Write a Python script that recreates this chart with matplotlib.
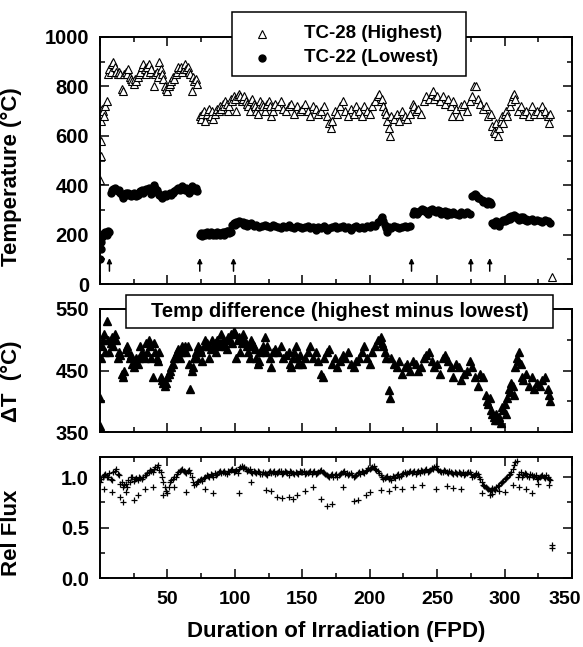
import numpy as np
import matplotlib
matplotlib.use("Agg")
import matplotlib.pyplot as plt
from matplotlib.patches import Rectangle
from matplotlib.lines import Line2D
from matplotlib.ticker import MultipleLocator
from matplotlib.transforms import ScaledTranslation

plt.rcParams["font.family"] = ["Liberation Sans", "DejaVu Sans"]
plt.rcParams["font.weight"] = "bold"

# (day, temperature C)
tc28 = [(0.3, 420), (0.5, 520), (0.7, 580), (1, 660), (1.3, 690), (1.8, 710), (2.5, 700), (3, 680), (4, 720), (5, 740),
        (6, 850), (7, 870), (8, 860), (9, 890), (10, 900), (11, 880), (12, 860), (13, 850), (14, 860), (15, 850),
        (16, 790), (17, 780), (18, 850), (19, 860), (20, 850), (21, 870), (22, 840), (23, 830), (24, 820), (25, 810),
        (26, 830), (27, 820), (28, 840), (29, 850), (30, 860), (31, 880), (32, 890), (33, 870), (34, 850), (35, 880),
        (36, 890), (37, 860), (38, 870), (40, 800), (41, 850), (42, 860), (43, 840), (44, 900), (45, 870), (46, 850),
        (47, 830), (48, 800), (49, 790), (50, 780), (51, 800), (52, 810), (53, 820), (54, 840), (55, 830), (56, 850),
        (57, 860), (58, 880), (59, 870), (60, 880), (61, 860), (62, 870), (63, 890), (64, 870), (65, 880), (66, 860),
        (67, 850), (68, 780), (69, 840), (70, 820), (71, 830), (72, 810),
        (74, 680), (75, 670), (76, 690), (77, 700), (78, 660), (79, 690), (80, 700), (81, 710), (82, 680), (83, 700),
        (84, 670), (85, 690), (86, 700), (87, 710), (88, 700), (89, 720), (90, 710), (91, 730), (92, 720), (93, 740),
        (94, 730), (95, 700), (96, 720), (97, 750), (98, 740), (99, 760), (100, 750), (101, 700), (102, 760), (103, 770),
        (104, 760), (105, 740), (106, 750), (107, 760), (108, 740), (109, 730), (110, 720), (111, 700), (112, 740),
        (113, 750), (114, 730), (115, 720), (116, 700), (117, 690), (118, 720), (119, 740), (120, 730), (121, 720),
        (122, 700), (123, 720), (124, 730), (125, 740), (126, 720), (127, 680), (128, 700), (129, 720), (130, 730),
        (132, 720), (134, 740), (136, 710), (138, 700), (140, 720), (142, 730), (144, 690), (146, 720), (148, 700),
        (150, 710), (152, 730), (154, 700), (156, 680), (158, 720), (160, 710), (162, 690), (164, 700), (166, 720),
        (168, 680), (170, 650), (171, 630), (172, 660), (174, 700), (176, 690), (178, 720), (180, 740), (182, 700),
        (184, 680), (186, 710), (188, 690), (190, 720), (192, 700), (194, 680), (196, 720), (198, 700), (200, 690),
        (202, 720), (204, 740), (206, 760), (207, 770), (208, 740), (209, 750), (210, 720), (211, 700), (212, 690),
        (213, 660), (214, 630), (215, 600), (216, 680), (218, 670), (220, 690), (222, 660), (224, 700), (226, 680),
        (228, 670), (230, 690), (232, 730), (233, 720), (234, 700), (236, 710), (238, 690), (240, 740), (242, 760),
        (244, 750), (246, 770), (247, 780), (248, 750), (250, 760), (252, 740), (254, 760), (256, 730), (258, 750),
        (260, 720), (261, 680), (262, 740), (264, 710), (266, 680), (268, 720), (270, 730), (272, 700), (274, 740),
        (276, 760), (277, 800), (279, 800), (280, 750), (282, 730), (284, 710), (286, 720), (288, 680), (290, 690),
        (291, 640), (292, 620), (293, 610), (294, 650), (295, 600), (296, 630), (297, 660), (298, 680), (299, 650),
        (300, 690), (301, 700), (302, 680), (304, 720), (305, 740), (306, 760), (307, 770), (308, 750), (310, 700),
        (312, 720), (314, 690), (316, 700), (318, 680), (320, 720), (322, 690), (324, 700), (326, 690), (328, 720),
        (330, 700), (332, 680), (333, 650), (334, 690), (335, 30)]

tc22 = [(0.3, 100), (0.6, 140), (1, 170), (1.5, 190), (2, 200), (3, 205), (4, 210), (5, 200), (6, 215), (7, 210),
        (8, 370), (9, 380), (10, 385), (11, 390), (12, 380), (13, 375), (14, 380), (15, 370), (16, 360), (17, 350),
        (18, 365), (19, 370), (20, 360), (21, 370), (22, 365), (23, 355), (24, 360), (25, 370), (26, 365), (27, 355),
        (28, 360), (29, 370), (30, 375), (31, 380), (32, 370), (33, 380), (34, 385), (35, 380), (36, 390), (37, 375),
        (38, 365), (39, 380), (40, 400), (41, 390), (42, 380), (43, 370), (44, 360), (45, 355), (46, 350), (47, 360),
        (48, 365), (49, 355), (50, 360), (51, 365), (52, 370), (53, 360), (54, 370), (55, 375), (56, 380), (57, 385),
        (58, 390), (59, 380), (60, 385), (61, 395), (62, 385), (63, 380), (64, 390), (65, 375), (66, 370), (67, 385),
        (68, 395), (69, 380), (70, 385), (71, 390), (72, 375),
        (74, 200), (75, 205), (76, 195), (77, 205), (78, 200), (79, 210), (80, 205), (81, 200), (82, 210), (83, 205),
        (84, 200), (85, 205), (86, 200), (87, 210), (88, 205), (89, 200), (90, 205), (91, 210), (92, 200), (93, 210),
        (94, 215), (95, 215), (96, 205), (97, 210),
        (98, 240), (99, 245), (100, 240), (101, 250), (102, 245), (103, 255), (104, 250), (105, 245), (106, 250),
        (107, 240), (108, 245), (109, 235), (110, 240), (112, 245), (114, 235), (116, 240), (118, 230), (120, 235),
        (122, 240), (124, 235), (126, 230), (128, 240), (130, 235), (132, 230), (134, 225), (136, 235), (138, 230),
        (140, 240), (142, 230), (144, 225), (146, 235), (148, 230), (150, 225), (152, 230), (154, 235), (156, 225),
        (158, 230), (160, 220), (162, 230), (164, 225), (166, 235), (168, 220), (170, 225), (172, 230), (174, 235),
        (176, 225), (178, 230), (180, 235), (182, 225), (184, 230), (186, 220), (188, 230), (190, 235), (192, 225),
        (194, 230), (196, 225), (198, 235), (200, 230), (202, 240), (204, 235), (206, 250), (208, 265), (209, 270),
        (210, 255), (211, 240), (212, 225), (213, 210), (214, 230), (216, 225), (218, 235), (220, 230), (222, 225),
        (224, 230), (226, 235), (228, 230), (230, 235),
        (232, 285), (233, 295), (234, 290), (235, 285), (236, 290), (237, 295), (238, 300), (239, 305), (240, 300),
        (242, 290), (243, 285), (244, 295), (245, 300), (246, 305), (247, 300), (248, 295), (249, 290), (250, 295),
        (251, 300), (252, 295), (253, 285), (254, 290), (256, 295), (257, 280), (258, 290), (260, 285), (262, 290),
        (264, 285), (266, 280), (268, 290), (270, 285), (272, 290), (274, 285),
        (276, 355), (277, 360), (278, 365), (279, 360), (280, 350), (281, 350), (283, 340), (284, 330), (285, 335),
        (286, 330), (287, 325), (288, 335), (289, 330), (290, 325),
        (291, 245), (292, 240), (293, 250), (294, 255), (295, 245), (296, 235), (297, 250), (298, 255), (299, 260),
        (300, 255), (301, 265), (302, 260), (303, 270), (304, 265), (305, 275), (306, 270), (307, 280), (308, 275),
        (309, 270), (310, 265), (311, 260), (312, 270), (313, 265), (314, 270), (315, 260), (316, 265), (317, 255),
        (318, 260), (320, 265), (322, 255), (324, 260), (326, 255), (328, 250), (330, 260), (332, 255), (334, 245)]

# (day, highest minus lowest C)
delta_t = [(0, 360), (0.3, 405), (1, 470), (1.5, 490), (2, 500), (3, 510), (4, 480), (5, 530), (6, 500), (7, 480),
           (8, 495), (9, 505), (10, 490), (11, 510), (12, 500), (13, 470), (14, 480), (15, 475), (16, 445), (17, 440),
           (18, 450), (19, 485), (20, 490), (21, 480), (22, 470), (23, 475), (24, 460), (25, 455), (26, 465),
           (27, 470), (28, 460), (29, 470), (30, 490), (31, 480), (32, 475), (33, 470), (34, 495), (35, 480),
           (36, 500), (37, 490), (38, 470), (39, 440), (40, 495), (41, 480), (42, 470), (43, 465), (44, 480),
           (45, 440), (46, 435), (47, 430), (48, 425), (49, 430), (50, 440), (51, 445), (52, 450), (53, 455),
           (54, 460), (55, 470), (56, 475), (57, 480), (58, 485), (59, 470), (60, 480), (61, 490), (62, 485),
           (63, 490), (64, 480), (65, 490), (66, 460), (67, 420), (68, 450), (69, 455), (70, 470), (71, 480),
           (72, 470), (73, 490), (74, 485), (75, 480), (76, 465), (77, 490), (78, 500), (79, 495), (80, 490),
           (81, 470), (82, 485), (83, 500), (84, 490), (85, 495), (86, 480), (87, 500), (88, 490), (89, 495),
           (90, 510), (91, 500), (92, 495), (93, 490), (94, 485), (95, 505), (96, 500), (97, 510), (98, 495),
           (99, 515), (100, 510), (101, 470), (102, 500), (103, 505), (104, 480), (105, 495), (106, 510), (107, 500),
           (108, 495), (109, 490), (110, 480), (111, 470), (112, 500), (113, 495), (114, 490), (115, 485), (116, 470),
           (117, 460), (118, 465), (119, 480), (120, 485), (121, 490), (122, 505), (123, 480), (124, 490), (126, 470),
           (127, 455), (128, 480), (130, 485), (132, 480), (134, 490), (136, 470), (138, 475), (140, 480), (141, 460),
           (142, 455), (143, 470), (144, 480), (145, 490), (146, 470), (147, 460), (148, 475), (150, 460), (152, 470),
           (154, 480), (156, 490), (158, 470), (160, 480), (162, 465), (164, 445), (165, 440), (166, 470), (168, 480),
           (170, 485), (172, 460), (174, 470), (176, 455), (178, 465), (180, 475), (182, 470), (184, 480), (186, 460),
           (188, 455), (190, 465), (192, 470), (194, 480), (196, 490), (198, 470), (200, 460), (202, 480), (204, 490),
           (206, 500), (208, 505), (209, 495), (210, 490), (211, 480), (212, 470), (214, 418), (215, 405), (216, 470),
           (218, 460), (220, 455), (222, 465), (224, 445), (226, 455), (228, 460), (230, 450), (232, 465), (234, 460),
           (236, 450), (238, 455), (240, 470), (242, 475), (244, 480), (246, 465), (248, 455), (250, 460), (252, 445),
           (254, 470), (256, 475), (258, 465), (260, 455), (262, 440), (264, 460), (266, 455), (268, 435), (270, 445),
           (272, 450), (274, 465), (276, 455), (278, 440), (280, 425), (282, 445), (284, 440), (286, 410), (287, 400),
           (288, 395), (289, 405), (290, 385), (291, 380), (292, 375), (293, 370), (294, 380), (295, 370), (296, 375),
           (297, 365), (298, 390), (299, 385), (300, 395), (301, 380), (302, 405), (303, 420), (304, 415), (305, 430),
           (306, 425), (307, 410), (308, 455), (309, 470), (310, 465), (311, 480), (312, 460), (313, 440), (314, 435),
           (316, 445), (318, 425), (320, 440), (322, 420), (324, 430), (326, 425), (328, 435), (330, 440), (332, 420),
           (333, 410), (334, 400)]

# (day, relative flux), even days of the main band
rel_flux = [(0, 0.95), (2, 1.0), (4, 1.03), (6, 1.0), (8, 0.98), (10, 1.05), (12, 1.08), (14, 1.02), (16, 0.95),
            (18, 0.92), (20, 0.9), (22, 0.95), (24, 1.0), (26, 0.98), (28, 0.97), (30, 0.99), (32, 1.0), (34, 1.02),
            (36, 1.05), (38, 1.06), (40, 1.08), (42, 1.1), (44, 1.07), (46, 1.0), (48, 0.9), (49, 0.86), (50, 0.84),
            (52, 0.95), (54, 0.98), (56, 1.0), (58, 1.05), (60, 1.07), (62, 1.06), (64, 1.04), (66, 1.07), (68, 1.0),
            (70, 0.92), (72, 0.95), (74, 0.97), (76, 0.96), (78, 1.0), (80, 1.01), (82, 1.03), (84, 1.0), (86, 1.02),
            (88, 1.05), (90, 1.04), (92, 1.06), (94, 1.03), (96, 1.05), (98, 1.08), (100, 1.06), (102, 1.04),
            (104, 1.1), (106, 1.09), (108, 1.08), (110, 1.07), (112, 1.05), (114, 1.06), (116, 1.04), (118, 1.05),
            (120, 1.03), (122, 1.04), (124, 1.02), (126, 1.06), (128, 1.05), (130, 1.03), (132, 1.05), (134, 1.06),
            (136, 1.04), (138, 1.05), (140, 1.02), (142, 1.05), (144, 1.03), (146, 1.04), (148, 1.06), (150, 1.05),
            (152, 1.03), (154, 1.04), (156, 1.06), (158, 1.05), (160, 1.03), (162, 1.05), (164, 1.07), (166, 1.04),
            (168, 1.02), (170, 1.0), (172, 1.03), (174, 1.02), (176, 1.0), (178, 1.03), (180, 1.05), (182, 1.03),
            (184, 1.02), (186, 1.04), (188, 1.0), (190, 1.02), (192, 1.05), (194, 1.06), (196, 1.04), (198, 1.07),
            (200, 1.08), (202, 1.1), (204, 1.08), (206, 1.06), (208, 1.02), (210, 0.98), (212, 1.0), (214, 0.98),
            (216, 0.97), (218, 1.0), (220, 1.02), (222, 1.0), (224, 1.03), (226, 1.05), (228, 1.04), (230, 1.06),
            (232, 1.05), (234, 1.03), (236, 1.06), (238, 1.07), (240, 1.05), (242, 1.08), (244, 1.06), (246, 1.09),
            (248, 1.1), (250, 1.08), (252, 1.06), (254, 1.05), (256, 1.06), (258, 1.04), (260, 1.05), (262, 1.03),
            (264, 1.04), (266, 1.05), (268, 1.03), (270, 1.02), (272, 1.04), (274, 1.05), (276, 1.0), (278, 1.02),
            (280, 1.03), (282, 0.98), (284, 0.92), (286, 0.9), (288, 0.88), (290, 0.87), (292, 0.88), (294, 0.9),
            (296, 0.92), (298, 0.95), (300, 0.98), (302, 1.0), (304, 1.03), (306, 1.08), (307, 1.12), (308, 1.15),
            (309, 1.16), (310, 1.0), (312, 1.05), (314, 1.02), (316, 1.03), (318, 1.0), (320, 1.02), (322, 1.01),
            (324, 0.98), (326, 1.0), (328, 1.02), (330, 0.99), (332, 1.0), (334, 0.97)]

# odd days of the main band
rel_flux_odd = [(1, 0.98), (3, 1.02), (5, 1.0), (7, 1.04), (9, 0.97), (11, 1.06), (13, 1.03), (15, 0.93), (17, 0.9),
                (19, 0.93), (21, 0.97), (23, 1.0), (25, 0.96), (27, 0.99), (29, 1.0), (31, 0.98), (33, 1.02),
                (35, 1.04), (37, 1.07), (39, 1.05), (41, 1.1), (43, 1.12), (45, 1.05), (47, 0.95), (51, 0.9),
                (53, 0.97), (55, 1.0), (57, 1.03), (59, 1.06), (61, 1.08), (63, 1.05), (65, 1.06), (67, 1.04),
                (69, 0.95), (71, 0.93), (73, 0.96), (75, 0.98), (77, 0.99), (79, 1.02), (81, 1.0), (83, 1.02),
                (85, 1.04), (87, 1.03), (89, 1.06), (91, 1.05), (93, 1.04), (95, 1.06), (97, 1.07), (99, 1.05),
                (101, 1.07), (103, 1.08), (105, 1.11), (107, 1.1), (109, 1.06), (111, 1.08), (113, 1.04), (115, 1.05),
                (117, 1.06), (119, 1.03), (121, 1.05), (123, 1.03), (125, 1.05), (127, 1.04), (129, 1.06), (131, 1.04),
                (133, 1.06), (135, 1.03), (137, 1.06), (139, 1.04), (141, 1.06), (143, 1.04), (145, 1.05), (147, 1.03),
                (149, 1.05), (151, 1.06), (153, 1.04), (155, 1.05), (157, 1.03), (159, 1.06), (161, 1.04), (163, 1.06),
                (165, 1.05), (167, 1.03), (169, 1.01), (171, 1.02), (173, 1.0), (175, 1.03), (177, 1.02), (179, 1.04),
                (181, 1.06), (183, 1.04), (185, 1.03), (187, 1.02), (189, 1.01), (191, 1.04), (193, 1.03), (195, 1.05),
                (197, 1.06), (199, 1.09), (201, 1.09), (203, 1.11), (205, 1.07), (207, 1.04), (209, 1.0), (211, 0.99),
                (213, 1.01), (215, 0.99), (217, 1.01), (219, 0.99), (221, 1.03), (223, 1.01), (225, 1.04), (227, 1.03),
                (229, 1.05), (231, 1.04), (233, 1.06), (235, 1.05), (237, 1.04), (239, 1.06), (241, 1.07), (243, 1.05),
                (245, 1.07), (247, 1.08), (249, 1.11), (251, 1.07), (253, 1.05), (255, 1.07), (257, 1.05), (259, 1.06),
                (261, 1.04), (263, 1.05), (265, 1.03), (267, 1.04), (269, 1.05), (271, 1.03), (273, 1.05), (275, 1.03),
                (277, 1.01), (279, 1.04), (281, 1.0), (283, 0.95), (285, 0.91), (287, 0.89), (289, 0.86), (291, 0.89),
                (293, 0.87), (295, 0.91), (297, 0.94), (299, 0.96), (301, 0.99), (303, 1.02), (305, 1.05), (311, 1.03),
                (313, 1.0), (315, 1.04), (317, 1.01), (319, 1.03), (321, 1.0), (323, 1.02), (325, 0.99), (327, 1.01),
                (329, 1.0), (331, 1.02), (333, 0.98)]

# low readings scattered below the band
rel_flux_low = [(3, 0.88), (9, 0.85), (15, 0.8), (17, 0.75), (19, 0.85), (25, 0.77), (28, 0.82), (33, 0.88),
                (39, 0.9), (47, 0.82), (55, 0.9), (64, 0.85), (78, 0.88), (84, 0.84), (103, 0.84), (112, 0.95),
                (123, 0.87), (127, 0.86), (131, 0.8), (135, 0.79), (140, 0.8), (143, 0.78), (146, 0.82), (152, 0.86),
                (158, 0.9), (164, 0.78), (168, 0.71), (172, 0.73), (180, 0.9), (188, 0.76), (191, 0.77), (197, 0.82),
                (200, 0.85), (208, 0.87), (214, 0.86), (219, 0.9), (224, 0.88), (232, 0.9), (239, 0.92), (249, 0.88),
                (257, 0.91), (262, 0.89), (268, 0.88), (283, 0.84), (289, 0.82), (291, 0.83), (296, 0.86), (300, 0.85),
                (306, 0.92), (311, 0.9), (316, 0.88), (320, 0.84), (325, 0.93), (333, 0.92), (335, 0.33), (335.3, 0.30)]

# days marked with arrows in the top panel
event_days = [7, 74, 99, 231, 275, 289]

W, H = 583, 647
fig = plt.figure(figsize=(W / 100, H / 100), dpi=100)


def axes_px(left, top, right, bottom):
    return fig.add_axes([left / W, 1 - bottom / H, (right - left) / W, (bottom - top) / H])


ax1 = axes_px(100, 37, 572, 284)
ax2 = axes_px(100, 309, 572, 432)
ax3 = axes_px(100, 457, 572, 578)

x, y = zip(*tc28)
ax1.plot(x, y, ls="none", marker="^", ms=5.5, mfc="white", mec="black", mew=0.8)
x, y = zip(*tc22)
ax1.plot(x, y, ls="none", marker="o", ms=5, mfc="black", mec="black")
for d in event_days:
    ax1.annotate("", xy=(d, 105), xytext=(d, 52),
                 arrowprops=dict(arrowstyle="-|>", color="black", lw=1.1, mutation_scale=7,
                                 shrinkA=0, shrinkB=0))

x, y = zip(*delta_t)
ax2.plot(x, y, ls="none", marker="^", ms=5.5, mfc="black", mec="black")

x, y = zip(*(rel_flux + rel_flux_odd + rel_flux_low))
ax3.plot(x, y, ls="none", marker="+", ms=5, mew=0.9, color="black")

ax1.set_ylim(0, 1000)
ax1.yaxis.set_major_locator(MultipleLocator(200))
ax1.yaxis.set_minor_locator(MultipleLocator(100))
ax2.set_ylim(350, 550)
ax2.set_yticks([350, 450, 550])
ax2.yaxis.set_minor_locator(MultipleLocator(50))
ax3.set_ylim(0, 1.2)
ax3.set_yticks([0.0, 0.5, 1.0])
ax3.set_yticklabels(["0.0", "0.5", "1.0"])
ax3.yaxis.set_minor_locator(MultipleLocator(0.25))

for ax in (ax1, ax2, ax3):
    ax.set_xlim(0, 350)
    ax.xaxis.set_major_locator(MultipleLocator(50))
    ax.xaxis.set_minor_locator(MultipleLocator(25))
    ax.tick_params(which="both", direction="in", top=True, right=True, width=1.1)
    ax.tick_params(which="major", length=6.5, labelsize=14.5, pad=8)
    ax.tick_params(which="minor", length=3.5)
    for s in ax.spines.values():
        s.set_linewidth(1.4)
ax1.tick_params(axis="x", labelbottom=False)
ax2.tick_params(axis="x", labelbottom=False)
ax3.set_xticks([50, 100, 150, 200, 250, 300, 350])
ax3.xaxis.set_minor_locator(MultipleLocator(25))
ax3.tick_params(axis="x", which="major", pad=9, labelsize=14)
# the last label sits a little left of its tick so it stays inside the figure
last = ax3.get_xticklabels()[-1]
last.set_transform(last.get_transform() + ScaledTranslation(-7 / 100, 0, fig.dpi_scale_trans))

ax1.set_ylabel("Temperature (°C)", fontsize=16, fontweight="bold")
ax2.set_ylabel("ΔT  (°C)", fontsize=16, fontweight="bold")
ax3.set_ylabel("Rel Flux", fontsize=16, fontweight="bold")
ax1.yaxis.set_label_coords(-0.165, 0.435)
ax2.yaxis.set_label_coords(-0.165, 0.41)
ax3.yaxis.set_label_coords(-0.165, 0.37)
ax3.set_xlabel("Duration of Irradiation (FPD)", fontsize=16, fontweight="bold", labelpad=10)

# legend box of the top panel
fig.add_artist(Rectangle((232 / W, 1 - 76 / H), 234 / W, 64 / H, transform=fig.transFigure,
                         facecolor="white", edgecolor="black", lw=1.1, zorder=5))
fig.add_artist(Line2D([262 / W], [1 - 34 / H], transform=fig.transFigure, ls="none", marker="^",
                      ms=5.5, mfc="white", mec="black", mew=0.8, zorder=6))
fig.add_artist(Line2D([262 / W], [1 - 58 / H], transform=fig.transFigure, ls="none", marker="o",
                      ms=5, mfc="black", mec="black", zorder=6))
fig.text(304 / W, 1 - 34 / H, "TC-28 (Highest)", fontsize=13.5, fontweight="bold", va="center", zorder=6)
fig.text(304 / W, 1 - 58 / H, "TC-22 (Lowest)", fontsize=13.5, fontweight="bold", va="center", zorder=6)

# title box of the middle panel
fig.add_artist(Rectangle((126 / W, 1 - 328 / H), 427 / W, 33 / H, transform=fig.transFigure,
                         facecolor="white", edgecolor="black", lw=1.1, zorder=5))
fig.text(339.5 / W, 1 - 311.5 / H, "Temp difference (highest minus lowest)", fontsize=14.5,
         fontweight="bold", ha="center", va="center", zorder=6)

fig.savefig("out.png", dpi=100)
